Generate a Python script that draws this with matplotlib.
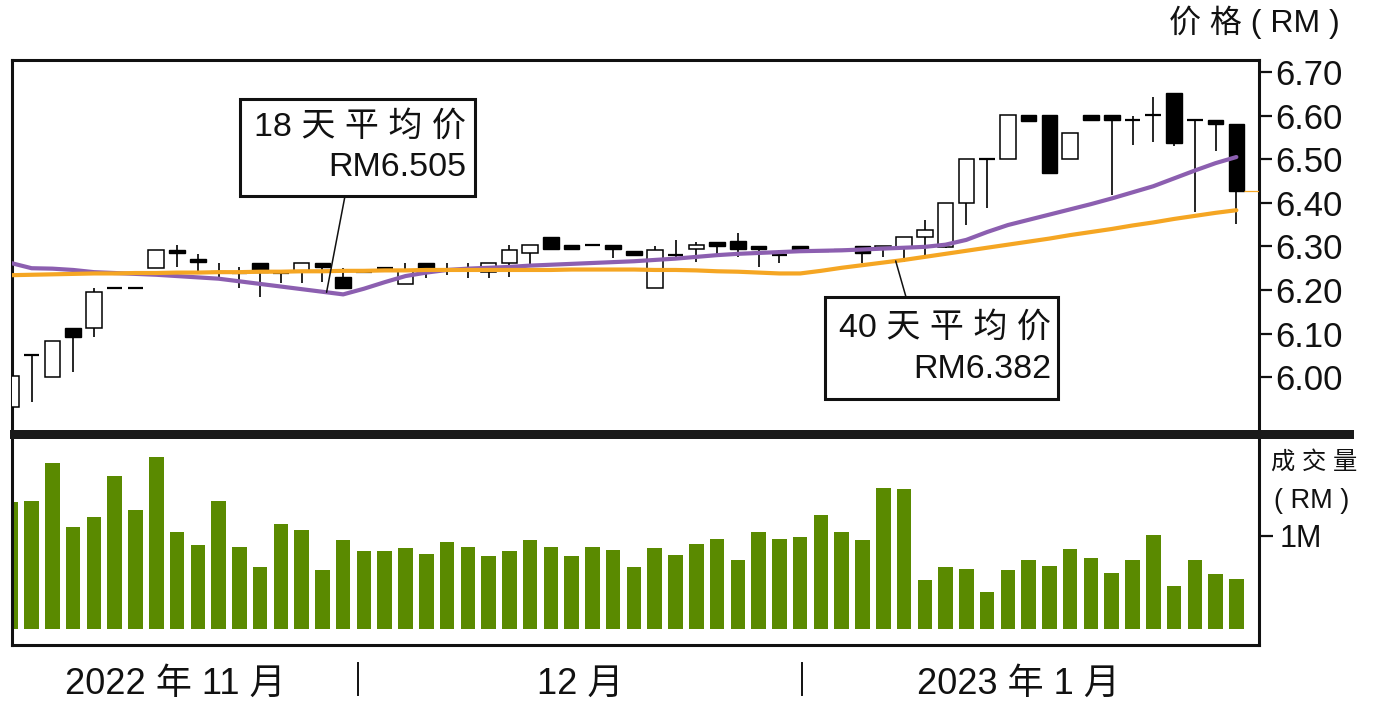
import numpy as np
import matplotlib
matplotlib.use("Agg")
import matplotlib.pyplot as plt
from matplotlib.patches import Rectangle
import matplotlib.transforms as mtransforms

plt.rcParams['font.family'] = ['Liberation Sans', 'Noto Sans CJK SC', 'DejaVu Sans']

# ---------------- data ----------------
days = list(range(1, 61))
opens = [5.932, 6.052, 6.001, 6.114, 6.112, 6.204, 6.204, 6.250, 6.292, 6.271,
         6.242, 6.240, 6.261, 6.238, 6.242, 6.261, 6.231, 6.242, 6.250, 6.213,
         6.261, 6.245, 6.245, 6.242, 6.261, 6.284, 6.321, 6.303, 6.303, 6.303,
         6.290, 6.204, 6.280, 6.295, 6.311, 6.312, 6.301, 6.280, 6.302, 6.290,
         6.291, 6.302, 6.296, 6.299, 6.321, 6.299, 6.399, 6.500, 6.500, 6.601,
         6.601, 6.500, 6.601, 6.601, 6.589, 6.601, 6.651, 6.589, 6.589, 6.581]
closes = [6.003, 6.052, 6.084, 6.092, 6.195, 6.204, 6.204, 6.292, 6.284, 6.264,
          6.242, 6.240, 6.242, 6.238, 6.261, 6.253, 6.204, 6.242, 6.250, 6.245,
          6.250, 6.245, 6.245, 6.261, 6.292, 6.303, 6.293, 6.295, 6.303, 6.293,
          6.280, 6.292, 6.280, 6.303, 6.301, 6.293, 6.293, 6.280, 6.292, 6.290,
          6.291, 6.284, 6.302, 6.321, 6.337, 6.399, 6.500, 6.500, 6.601, 6.588,
          6.468, 6.559, 6.589, 6.589, 6.589, 6.601, 6.538, 6.589, 6.580, 6.428]
highs = [6.003, 6.052, 6.084, 6.114, 6.204, 6.204, 6.204, 6.292, 6.303, 6.282,
         6.261, 6.253, 6.261, 6.238, 6.261, 6.261, 6.250, 6.245, 6.250, 6.261,
         6.261, 6.261, 6.261, 6.261, 6.303, 6.303, 6.321, 6.303, 6.303, 6.303,
         6.290, 6.300, 6.315, 6.310, 6.311, 6.330, 6.301, 6.292, 6.302, 6.290,
         6.291, 6.302, 6.302, 6.321, 6.360, 6.399, 6.500, 6.500, 6.601, 6.601,
         6.601, 6.559, 6.601, 6.601, 6.600, 6.643, 6.651, 6.589, 6.589, 6.581]
lows = [5.932, 5.944, 6.001, 6.013, 6.093, 6.204, 6.204, 6.250, 6.253, 6.242,
        6.227, 6.204, 6.185, 6.215, 6.215, 6.219, 6.204, 6.240, 6.250, 6.213,
        6.228, 6.234, 6.227, 6.227, 6.230, 6.253, 6.293, 6.295, 6.303, 6.273,
        6.280, 6.204, 6.269, 6.265, 6.280, 6.276, 6.253, 6.263, 6.292, 6.290,
        6.291, 6.261, 6.276, 6.264, 6.276, 6.296, 6.350, 6.389, 6.500, 6.588,
        6.468, 6.500, 6.589, 6.418, 6.533, 6.540, 6.531, 6.380, 6.519, 6.351]
volume_m = [1.362, 1.372, 1.777, 1.096, 1.202, 1.638, 1.277, 1.840, 1.043, 0.894,
            1.372, 0.872, 0.660, 1.128, 1.064, 0.628, 0.957, 0.830, 0.830, 0.862,
            0.798, 0.926, 0.872, 0.777, 0.830, 0.957, 0.872, 0.777, 0.872, 0.840,
            0.660, 0.862, 0.787, 0.904, 0.968, 0.734, 1.043, 0.968, 0.989, 1.223,
            1.043, 0.957, 1.511, 1.500, 0.521, 0.660, 0.638, 0.394, 0.628, 0.734,
            0.670, 0.851, 0.755, 0.596, 0.734, 1.011, 0.457, 0.734, 0.585, 0.532]
ma18 = [6.262, 6.250, 6.249, 6.246, 6.241, 6.239, 6.237, 6.235, 6.232, 6.229,
        6.226, 6.220, 6.214, 6.208, 6.202, 6.196, 6.190, 6.203, 6.218, 6.232,
        6.240, 6.246, 6.249, 6.251, 6.253, 6.256, 6.258, 6.260, 6.262, 6.264,
        6.266, 6.269, 6.272, 6.276, 6.280, 6.283, 6.285, 6.287, 6.289, 6.290,
        6.291, 6.293, 6.295, 6.297, 6.299, 6.304, 6.315, 6.333, 6.349, 6.361,
        6.373, 6.385, 6.397, 6.410, 6.424, 6.438, 6.456, 6.474, 6.491, 6.505]
ma40 = [6.234, 6.235, 6.236, 6.237, 6.238, 6.238, 6.239, 6.239, 6.240, 6.240,
        6.241, 6.241, 6.242, 6.242, 6.243, 6.243, 6.244, 6.244, 6.245, 6.245,
        6.246, 6.246, 6.246, 6.246, 6.246, 6.246, 6.246, 6.247, 6.247, 6.247,
        6.247, 6.246, 6.246, 6.245, 6.243, 6.242, 6.240, 6.238, 6.238, 6.244,
        6.251, 6.257, 6.263, 6.269, 6.276, 6.283, 6.290, 6.297, 6.304, 6.311,
        6.318, 6.326, 6.333, 6.340, 6.348, 6.355, 6.363, 6.370, 6.377, 6.383]
price_ticks = [6.00, 6.10, 6.20, 6.30, 6.40, 6.50, 6.60, 6.70]
price_tick_labels = ["6.00", "6.10", "6.20", "6.30", "6.40", "6.50", "6.60", "6.70"]
vol_ticks = [1.0]
vol_tick_labels = ["1M"]
month_labels = ["2022 年 11 月", "12 月", "2023 年 1 月"]
month_label_pos = [8.9, 28.4, 49.5]
month_breaks = [17.7, 39.1]
ma18_label = ["18 天 平 均 价", "RM6.505"]
ma40_label = ["40 天 平 均 价", "RM6.382"]

# ---------------- styles ----------------
W, H = 1374, 724
GREEN = '#5A8A00'
PURPLE = '#8C5FB0'
ORANGE = '#F5A623'

def fx(x):
    return x / W

def fy(y):
    return 1 - y / H

fig = plt.figure(figsize=(W / 100, H / 100), dpi=100)
fig.patch.set_facecolor('white')

ax_p = fig.add_axes([fx(12), fy(430), (1259 - 12) / W, (430 - 60) / H])
ax_v = fig.add_axes([fx(12), fy(645), (1259 - 12) / W, (645 - 439) / H])

xlim = (1.056, 61.09)
for ax in (ax_p, ax_v):
    ax.set_xlim(*xlim)
    ax.set_facecolor('white')
    for s in ax.spines.values():
        s.set_linewidth(2.2)
        s.set_color('#111111')
    ax.set_xticks([])

ax_p.set_ylim(5.879, 6.7275)
ax_v.set_ylim(-0.177, 2.038)
ax_p.spines['bottom'].set_visible(False)
ax_v.spines['top'].set_visible(False)

# ---------------- candlesticks ----------------
x = np.array(days, dtype=float)
o = np.array(opens); c = np.array(closes)
h = np.array(highs); l = np.array(lows)
bw = 0.75

ax_p.vlines(x, l, h, color='black', lw=1.2, zorder=2)
for xi, oi, ci in zip(x, o, c):
    if abs(ci - oi) < 0.002:
        ax_p.hlines(oi, xi - bw / 2, xi + bw / 2, color='black', lw=1.6, zorder=3)
    elif ci > oi:
        ax_p.bar(xi, ci - oi, bottom=oi, width=bw, facecolor='white',
                 edgecolor='black', lw=1.1, zorder=3)
    else:
        ax_p.bar(xi, oi - ci, bottom=ci, width=bw, facecolor='black',
                 edgecolor='black', lw=1.0, zorder=3)

ax_p.plot(x, ma18, color=PURPLE, lw=3.0, zorder=4, solid_capstyle='round')
ax_p.plot(x, ma40, color=ORANGE, lw=3.0, zorder=5, solid_capstyle='round')
ax_p.hlines(closes[-1], x[-1] + bw / 2, xlim[1], color=ORANGE, lw=0.9, zorder=5)

# price axis on the right
ax_p.yaxis.tick_right()
ax_p.set_yticks(price_ticks)
ax_p.set_yticklabels(price_tick_labels)
ax_p.tick_params(axis='y', direction='out', length=9, width=1.6, pad=3,
                 labelsize=25, colors='#111111')

# ---------------- volume ----------------
ax_v.bar(x, volume_m, width=0.70, color=GREEN, zorder=2)
ax_v.yaxis.tick_right()
ax_v.set_yticks(vol_ticks)
ax_v.set_yticklabels(vol_tick_labels)
ax_v.tick_params(axis='y', direction='out', length=10, width=1.6, pad=5,
                 labelsize=22, colors='#111111')

# month labels and separators under the volume panel
trans = mtransforms.blended_transform_factory(ax_v.transData, ax_v.transAxes)
for pos, lab in zip(month_label_pos, month_labels):
    ax_v.text(pos, -0.19, lab, transform=trans, ha='center', va='center',
              fontsize=26, color='#111111', clip_on=False)
for b in month_breaks:
    ax_v.plot([b, b], [-0.087, -0.243], transform=trans, color='#111111',
              lw=1.4, clip_on=False)

# thick separator band
fig.patches.append(Rectangle((fx(10), fy(439)), (1354 - 10) / W, 9 / H,
                             transform=fig.transFigure, facecolor='#1a1a1a',
                             edgecolor='none', zorder=10))

# axis titles
fig.text(fx(1254), fy(22), "价 格 ( RM )", ha='center', va='center',
         fontsize=23, color='#111111')
fig.text(fx(1314), fy(462), "成 交 量", ha='center', va='center',
         fontsize=17.5, color='#111111')
fig.text(fx(1312), fy(501), "( RM )", ha='center', va='center',
         fontsize=19.5, color='#111111')

# ---------------- annotation boxes ----------------
def box(x0, y0, x1, y1, lines, right, ys):
    fig.patches.append(Rectangle((fx(x0), fy(y1)), (x1 - x0) / W, (y1 - y0) / H,
                                 transform=fig.transFigure, facecolor='white',
                                 edgecolor='#111111', lw=2.2, zorder=20))
    for t, yy in zip(lines, ys):
        fig.text(fx(right), fy(yy), t, ha='right', va='center', fontsize=24.5,
                 color='#111111', zorder=21)

box(240, 99, 475, 196, ma18_label, 466, [127, 168])
box(825, 297, 1058, 399, ma40_label, 1051, [328, 370])

k1 = 16.2
ax_p.annotate('', xy=(k1, np.interp(k1, x, ma18)), xycoords='data',
              xytext=(fx(345), fy(196)), textcoords='figure fraction',
              arrowprops=dict(arrowstyle='-', lw=1.1, color='#111111',
                              shrinkA=0, shrinkB=0), zorder=6)
k2 = 43.6
ax_p.annotate('', xy=(k2, np.interp(k2, x, ma40)), xycoords='data',
              xytext=(fx(906), fy(297)), textcoords='figure fraction',
              arrowprops=dict(arrowstyle='-', lw=1.1, color='#111111',
                              shrinkA=0, shrinkB=0), zorder=6)

fig.savefig('out.png', dpi=100, facecolor='white')
